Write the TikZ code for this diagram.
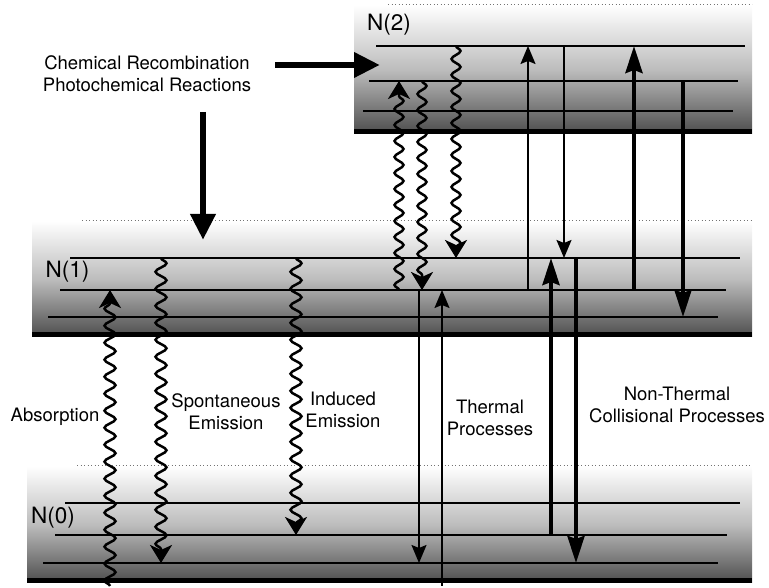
\documentclass[tikz,border=0pt]{standalone}
\usepackage{fontspec}
\setmainfont{TeX Gyre Heros}
\usetikzlibrary{arrows.meta,decorations.pathmorphing}
\tikzset{
  band/.style={draw=none, top color=white, bottom color=black!70, middle color=black!26},
  lvl/.style={line width=1.4pt},
  lvlc/.style={line width=2.8pt},
  base/.style={line width=5pt},
  rim/.style={black!55, line width=1pt, dash pattern=on 1.1pt off 2.4pt},
  wave/.style={line width=2.5pt, decorate, decoration={snake, amplitude=5.5pt, segment length=17pt, post length=10pt}, -{Stealth[length=18pt,width=22pt,inset=5pt]}},
  swave/.style={wave, decoration={snake, amplitude=4.5pt, segment length=16pt, post length=10pt}},
  arr/.style={line width=1.7pt, -{Stealth[length=18pt,width=15pt,inset=3pt]}},
  tarr/.style={line width=4.2pt, -{Stealth[length=27pt,width=17pt,inset=3pt]}},
  barr/.style={line width=6.5pt, -{Triangle[length=26pt,width=24pt]}},
  lbl/.style={font=\fontsize{18.5}{21.7}\selectfont, align=center, inner sep=0pt},
  nlbl/.style={font=\fontsize{22.5}{26}\selectfont, inner sep=0pt},
}
\begin{document}
\begin{tikzpicture}[x=1pt,y=1pt]
\useasboundingbox (0,0) rectangle (769,588);
% level N(2)
\fill[band] (354,454) rectangle (752,583);
\draw[rim] (388,583) -- (752,583);
\draw[lvl] (376,542) -- (745,542);
\draw[lvl] (369,507) -- (738,507);
\draw[lvlc] (363,477) -- (733,477);
\draw[base] (354,456.5) -- (752,456.5);
\node[nlbl] (n2) at (389,563) {N(2)};
% level N(1)
\fill[band] (32,251) rectangle (752,367);
\draw[rim] (82,367) -- (752,367);
\draw[lvl] (70,330) -- (740,330);
\draw[lvl] (60,298) -- (726,298);
\draw[lvlc] (48,271) -- (718,271);
\draw[base] (32,253.5) -- (752,253.5);
\node[nlbl] (n1) at (67.5,316) {N(1)};
% level N(0)
\fill[band] (27,5) rectangle (752,122);
\draw[rim] (77,122) -- (752,122);
\draw[lvl] (65,85) -- (740,85);
\draw[lvl] (55,53) -- (727,53);
\draw[lvlc] (43,25) -- (718,25);
\draw[base] (27,7.5) -- (752,7.5);
\node[nlbl] (n0) at (53,70) {N(0)};
% radiative
\draw[wave] (110,2) -- (110,298);
\draw[wave] (161,330) -- (161,25);
\draw[wave] (296,330) -- (296,53);
\draw[swave] (399,298) -- (399,507);
\draw[swave] (422,507) -- (422,298);
\draw[swave] (456,542) -- (456,330);
% collisional
\draw[arr] (528,298) -- (528,542);
\draw[arr] (564,542) -- (564,330);
\draw[tarr] (634,298) -- (634,542);
\draw[tarr] (683,507) -- (683,271);
\draw[arr] (419,298) -- (419,25);
\draw[arr] (442,2) -- (442,298);
\draw[tarr] (551,53) -- (551,330);
\draw[tarr] (576,330) -- (576,25);
% chemical
\node[lbl] (chem) at (147,514) {Chemical Recombination\\Photochemical Reactions};
\draw[barr] (275,523) -- (380,523);
\draw[barr] (203,476) -- (203,348);
% labels
\node[lbl] (abs) at (55,171) {Absorption};
\node[lbl] (spo) at (226,176) {Spontaneous\\Emission};
\node[lbl] (ind) at (343,178) {Induced\\Emission};
\node[lbl] (thm) at (490,170) {Thermal\\Processes};
\node[lbl] (nth) at (677,183) {Non-Thermal\\Collisional Processes};
\end{tikzpicture}
\end{document}
